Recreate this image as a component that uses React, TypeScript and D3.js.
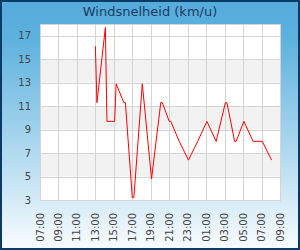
import * as d3 from 'd3'

const W = 300
const H = 250
const M = { top: 24, right: 20, bottom: 50, left: 40 }

const TITLE = 'Windsnelheid (km/u)'

const times = [
  '2024-01-01 13:00', '2024-01-01 13:10', '2024-01-01 14:05', '2024-01-01 14:15',
  '2024-01-01 15:05', '2024-01-01 15:15', '2024-01-01 16:05', '2024-01-01 16:15',
  '2024-01-01 17:00', '2024-01-01 17:10', '2024-01-01 18:05', '2024-01-01 19:05',
  '2024-01-01 20:05', '2024-01-01 20:15', '2024-01-01 21:00', '2024-01-01 21:10',
  '2024-01-01 22:05', '2024-01-01 23:05', '2024-01-02 00:05', '2024-01-02 01:05',
  '2024-01-02 02:05', '2024-01-02 03:05', '2024-01-02 03:15', '2024-01-02 04:05',
  '2024-01-02 04:15', '2024-01-02 05:05', '2024-01-02 06:05', '2024-01-02 07:05',
  '2024-01-02 08:05',
]

const speeds = [
  16.1, 11.3, 17.7, 9.7,
  9.7, 12.9, 11.3, 11.3,
  3.2, 3.2, 12.9, 4.8,
  11.3, 11.3, 9.7, 9.7,
  8.0, 6.4, 8.0, 9.7,
  8.0, 11.3, 11.3, 8.0,
  8.0, 9.7, 8.0, 8.0,
  6.4,
]

const xRange = ['2024-01-01 07:00', '2024-01-02 09:00']
const yTicks = [3, 5, 7, 9, 11, 13, 15, 17]
const yDomain = [3, 18]

const parse = d3.timeParse('%Y-%m-%d %H:%M')
const fmt = d3.timeFormat('%H:%M')

export default function App() {
  const iw = W - M.left - M.right
  const ih = H - M.top - M.bottom

  const [t0, t1] = xRange.map((s) => parse(s) as Date)
  const x = d3.scaleTime().domain([t0, t1]).range([0, iw])
  const y = d3.scaleLinear().domain(yDomain).range([ih, 0])

  const xTicks = d3.timeHour.range(t0, d3.timeMinute.offset(t1, 1), 2)

  const points = times.map((t, i) => ({ t: parse(t) as Date, v: speeds[i] }))
  const path = d3
    .line<{ t: Date; v: number }>()
    .x((d) => x(d.t))
    .y((d) => y(d.v))(points)

  // alternating bands
  const bands = yTicks.slice(0, -1).map((v, i) => ({ lo: v, hi: yTicks[i + 1], odd: i % 2 === 1 }))

  return (
    <>
      <style>{'body{margin:0}'}</style>
      <svg width={W} height={H} style={{ display: 'block', fontFamily: 'DejaVu Sans' }}>
        <defs>
          <linearGradient id="bg" x1="0" y1="0" x2="0" y2="1">
            <stop offset="0" stopColor="#55abdb" />
            <stop offset="0.15" stopColor="#5cb1de" />
            <stop offset="1" stopColor="#f9fcfe" />
          </linearGradient>
        </defs>
        <rect x={1} y={1} width={W - 2} height={H - 2} fill="url(#bg)" stroke="#0b3a66" strokeWidth={2} />
        <text x={W / 2} y={16} textAnchor="middle" fontSize={13} fill="#1b3b63">
          {TITLE}
        </text>

        <g transform={`translate(${M.left},${M.top})`}>
          <rect width={iw} height={ih} fill="#fff" />
          {bands
            .filter((b) => b.odd)
            .map((b) => (
              <rect key={b.lo} x={0} width={iw} y={y(b.hi)} height={y(b.lo) - y(b.hi)} fill="#f2f2f2" />
            ))}
          {yTicks.map((v) => (
            <g key={v}>
              <line x1={0} x2={iw} y1={Math.round(y(v)) + 0.5} y2={Math.round(y(v)) + 0.5} stroke="#d4d4d4" />
              <text x={-9} y={y(v)} dy="0.35em" textAnchor="end" fontSize={10} fill="#444">
                {v}
              </text>
            </g>
          ))}
          {xTicks.map((t) => {
            const px = Math.round(x(t)) + 0.5
            return (
              <g key={+t}>
                <line x1={px} x2={px} y1={0} y2={ih} stroke="#d4d4d4" />
                <text
                  transform={`translate(${x(t)},${ih + 13}) rotate(-90)`}
                  dy="0.35em"
                  textAnchor="end"
                  fontSize={10}
                  fill="#444"
                >
                  {fmt(t)}
                </text>
              </g>
            )
          })}
          <rect x={0.5} y={0.5} width={iw} height={ih} fill="none" stroke="#d4d4d4" />
          <path d={path ?? ''} fill="none" stroke="#ff0000" strokeWidth={1} />
        </g>
      </svg>
    </>
  )
}
